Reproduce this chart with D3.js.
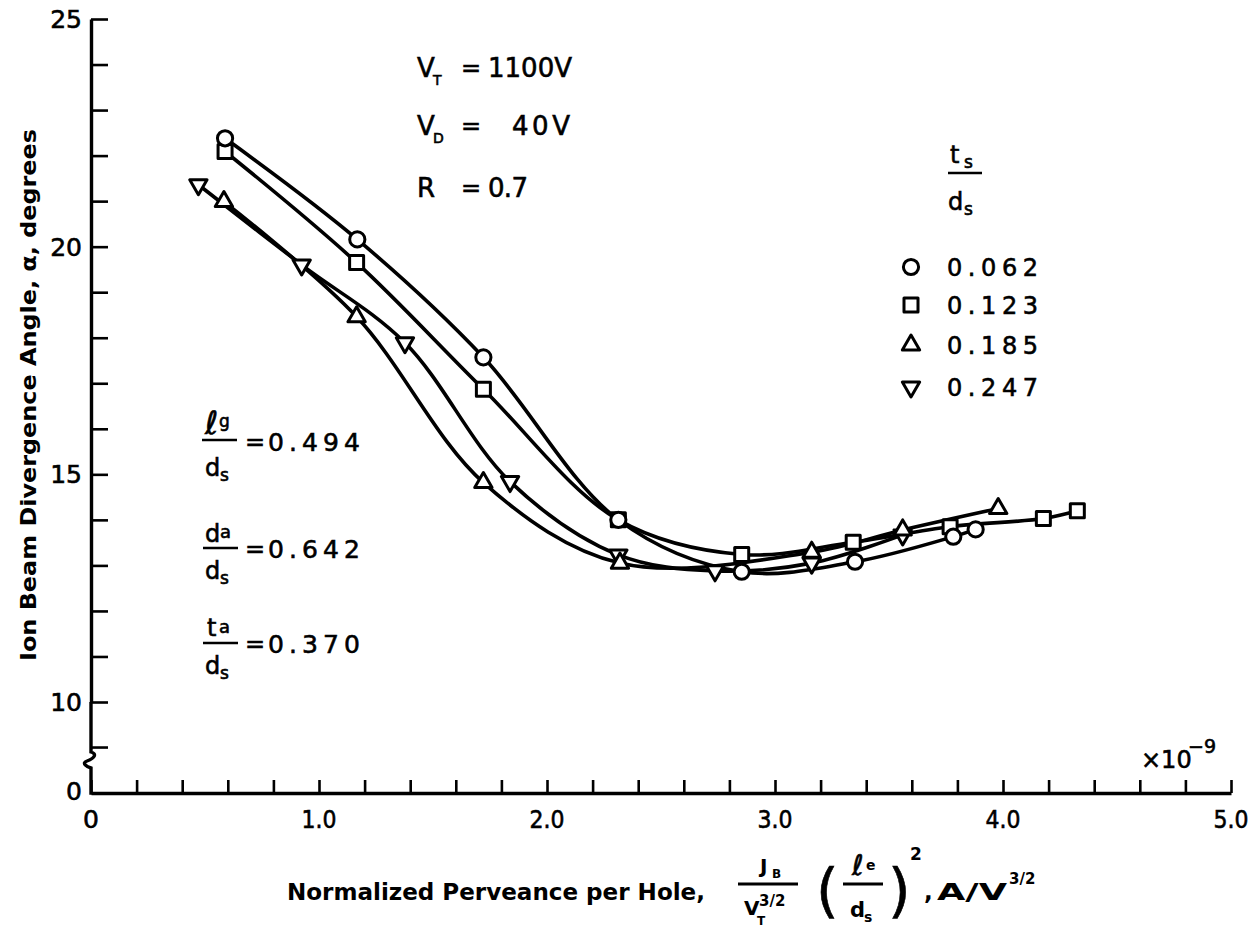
<!DOCTYPE html>
<html>
<head>
<meta charset="utf-8">
<script src="https://cdn.jsdelivr.net/npm/d3@7/dist/d3.min.js"></script>
<style>
  body { margin: 0; background: #fff; }
  svg { display: block; }
</style>
</head>
<body>
<svg id="chart" width="1254" height="929"></svg>
<script>
// Normalized perveance per hole (x 1e-9 A/V^3/2) and divergence angle (deg), by t_s/d_s
const seriesLabels = ["0.062", "0.123", "0.185", "0.247"];

const perv062  = [0.588, 1.168, 1.721, 2.313, 2.854, 3.351, 3.782, 3.880];
const angle062 = [22.38, 20.16, 17.57, 14.00, 12.86, 13.08, 13.63, 13.79];

const perv123  = [0.588, 1.165, 1.721, 2.313, 2.854, 3.343, 3.768, 4.177, 4.326];
const angle123 = [22.09, 19.65, 16.87, 14.00, 13.24, 13.51, 13.85, 14.03, 14.20];

const perv185  = [0.583, 1.165, 1.721, 2.320, 3.161, 3.560, 3.979];
const angle185 = [20.99, 18.46, 14.82, 13.05, 13.29, 13.78, 14.25];

const perv247  = [0.471, 0.924, 1.377, 1.838, 2.313, 2.737, 3.161, 3.560];
const angle247 = [21.36, 19.60, 17.89, 14.84, 13.23, 12.88, 13.05, 13.67];

const xTickValues = [0, 1, 2, 3, 4, 5];
const xTickLabels = ["0", "1.0", "2.0", "3.0", "4.0", "5.0"];
const yTickValues = [10, 15, 20, 25];
const yTickLabels = ["10", "15", "20", "25"];

const svg = d3.select("#chart");
const FONT = "'DejaVu Sans', 'Liberation Sans', sans-serif";

const x = d3.scaleLinear().domain([0, 5]).range([91, 1231]);
const y = d3.scaleLinear().domain([10, 25]).range([702, 19]);
const Y0 = 793;   // baseline of the broken (zero) axis

function txt(px, py, s, size, o = {}) {
  const t = svg.append("text").attr("x", px).attr("y", py).text(s)
    .attr("font-family", FONT).attr("font-size", size).attr("fill", "#000");
  if (o.anchor) t.attr("text-anchor", o.anchor);
  if (o.weight) t.attr("font-weight", o.weight);
  else t.attr("stroke", "#000").attr("stroke-width", 0.6);
  if (o.len) t.attr("textLength", o.len).attr("lengthAdjust", o.adjust || "spacing");
  return t;
}
function bar(x1, x2, yy, w = 2.6) {
  svg.append("line").attr("x1", x1).attr("x2", x2).attr("y1", yy).attr("y2", yy)
    .attr("stroke", "#000").attr("stroke-width", w);
}

// ---- X axis: minor ticks every 0.2, pointing up
const xMinor = d3.range(0, 5.0001, 0.2);
const gx = svg.append("g").attr("transform", `translate(0,${Y0})`)
  .call(d3.axisBottom(x).tickValues(xMinor).tickSizeInner(-13).tickSizeOuter(0).tickFormat(""));
gx.select(".domain").attr("stroke-width", 3.4);
gx.selectAll(".tick line").attr("stroke-width", 2.6);
xTickValues.forEach((v, i) => {
  txt(x(v), 828, xTickLabels[i], 25, { anchor: "middle", len: i === 0 ? null : 35, adjust: "spacingAndGlyphs" });
});

// ---- Y axis: ticks every degree, pointing right
const gy = svg.append("g").attr("transform", `translate(${x(0)},0)`)
  .call(d3.axisLeft(y).tickValues(d3.range(10, 26, 1)).tickSizeInner(-17).tickSizeOuter(0)
    .tickPadding(9).tickFormat(""));
gy.select(".domain").attr("stroke-width", 3.4);
gy.selectAll(".tick line").attr("stroke-width", 2.6);
yTickValues.forEach((v, i) => {
  txt(82, y(v) + 9, yTickLabels[i], 25, { anchor: "end" });
});

// axis continuation below 10 with the scale break
const x0 = x(0);
svg.append("line").attr("x1", x0).attr("x2", x0 + 17).attr("y1", y(9)).attr("y2", y(9))
  .attr("stroke", "#000").attr("stroke-width", 2.6);
svg.append("path")
  .attr("d", `M${x0},${y(10)} V752 C${x0 + 6},754 ${x0 + 4},758 ${x0 - 4},761 C${x0 - 10},763 ${x0 - 4},767 ${x0},768 V${Y0 + 1.7}`)
  .attr("fill", "none").attr("stroke", "#000").attr("stroke-width", 3.4);
txt(74, 800, "0", 25, { anchor: "middle" });

// multiplier
txt(1141, 768, "×10", 24);
txt(1188, 753, "−9", 19);

// ---- curves
const line = d3.line().x(d => x(d[0])).y(d => y(d[1])).curve(d3.curveCatmullRom.alpha(0.5));
const series = [
  { px: perv247, py: angle247, sym: "down" },
  { px: perv185, py: angle185, sym: "up" },
  { px: perv123, py: angle123, sym: "square" },
  { px: perv062, py: angle062, sym: "circle" }
];
series.forEach(s => {
  svg.append("path").datum(d3.zip(s.px, s.py)).attr("d", line)
    .attr("fill", "none").attr("stroke", "#000").attr("stroke-width", 3.6);
});

// ---- markers
const symbols = {
  circle: { type: d3.symbolCircle, size: Math.PI * 7.6 * 7.6, rot: 0 },
  square: { type: d3.symbolSquare, size: 14 * 14, rot: 0 },
  up:     { type: d3.symbolTriangle, size: 130, rot: 0 },
  down:   { type: d3.symbolTriangle, size: 130, rot: 180 }
};
function marker(cx, cy, key) {
  const s = symbols[key];
  svg.append("path").attr("d", d3.symbol(s.type, s.size)())
    .attr("transform", `translate(${cx},${cy}) rotate(${s.rot})`)
    .attr("fill", "#fff").attr("stroke", "#000").attr("stroke-width", 3)
    .attr("stroke-linejoin", "round");
}
series.forEach(s => {
  d3.zip(s.px, s.py).forEach(d => marker(x(d[0]), y(d[1]), s.sym));
});

// ---- legend
txt(950, 163, "t", 24);
txt(964, 168, "s", 17);
bar(948, 982, 173);
txt(948, 210, "d", 24);
txt(964, 215, "s", 17);
const legendKeys = ["circle", "square", "up", "down"];
const legendY = [267, 305, 345, 387];
seriesLabels.forEach((lab, i) => {
  marker(911, legendY[i], legendKeys[i]);
  txt(947, legendY[i] + 9, lab, 24, { len: 91 });
});

// ---- operating conditions
txt(417, 77, "V", 26); txt(433, 85, "T", 14);
txt(461, 76, "=", 24); txt(488, 77, "1100V", 26, { len: 84 });
txt(417, 135, "V", 26); txt(433, 143, "D", 14);
txt(461, 134, "=", 24); txt(512, 135, "40V", 26, { len: 58 });
txt(417, 197, "R", 26);
txt(461, 196, "=", 24); txt(488, 197, "0.7", 26, { len: 40 });

// ---- geometry ratios
txt(205, 434, "ℓ", 32); txt(219, 427, "g", 17);
bar(202, 237, 440);
txt(205, 476, "d", 24); txt(220, 481, "s", 17);
txt(245, 450, "=", 24); txt(268, 451, "0.494", 25, { len: 92 });

txt(205, 542, "d", 24); txt(220, 538, "a", 18);
bar(203, 238, 548);
txt(205, 579, "d", 24); txt(220, 584, "s", 17);
txt(245, 557, "=", 24); txt(268, 558, "0.642", 25, { len: 92 });

txt(207, 636, "t", 24); txt(219, 633, "a", 18);
bar(203, 238, 643);
txt(205, 674, "d", 24); txt(220, 679, "s", 17);
txt(245, 652, "=", 24); txt(268, 653, "0.370", 25, { len: 92 });

// ---- axis titles
svg.append("text").attr("transform", "translate(36,395) rotate(-90)")
  .attr("text-anchor", "middle").attr("font-family", FONT).attr("font-size", 22)
  .attr("font-weight", "bold").attr("textLength", 532).attr("lengthAdjust", "spacingAndGlyphs")
  .text("Ion Beam Divergence Angle, α, degrees");

txt(287, 900, "Normalized Perveance per Hole,", 23, { weight: "bold", len: 418, adjust: "spacingAndGlyphs" });
// J_B / V_T^(3/2)
txt(760, 873, "J", 20, { weight: "bold" }); txt(772, 878, "B", 12, { weight: "bold" });
bar(738, 798, 884, 2.8);
txt(744, 915, "V", 20, { weight: "bold" }); txt(757, 925, "T", 12, { weight: "bold" });
txt(759, 906, "3/2", 15, { weight: "bold" });
// (l_e / d_s)^2
txt(816, 911, "(", 58);
txt(852, 875, "ℓ", 28); txt(866, 870, "e", 14, { weight: "bold" });
bar(843, 883, 884, 2.8);
txt(850, 917, "d", 21, { weight: "bold" }); txt(864, 922, "s", 14, { weight: "bold" });
txt(888, 911, ")", 58);
txt(910, 860, "2", 17, { weight: "bold" });
txt(924, 900, ",", 23, { weight: "bold" });
txt(937, 900, "A/V", 23, { weight: "bold", len: 70, adjust: "spacingAndGlyphs" });
txt(1009, 884, "3/2", 15, { weight: "bold" });
</script>
</body>
</html>
